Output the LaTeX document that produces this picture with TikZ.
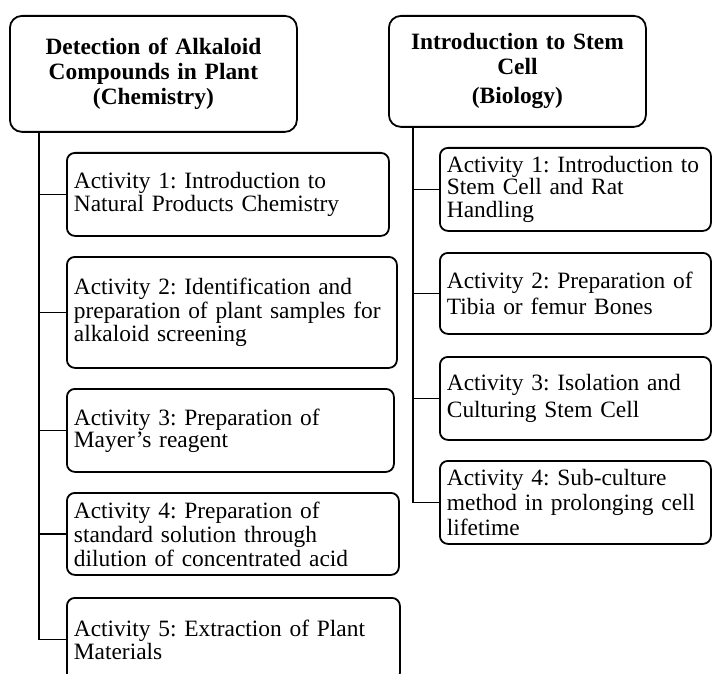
\documentclass[tikz,border=0pt]{standalone}
\usepackage{fontspec}
\setmainfont{Liberation Serif}
\begin{document}
\begin{tikzpicture}[x=1pt,y=-1pt]
\tikzset{
  conn/.style={line width=1.8pt},
  actbox/.style={draw, line width=1.8pt, rounded corners=8pt, align=left, inner xsep=7pt, inner ysep=0pt, font=\fontsize{23.4}{#1}\selectfont\frenchspacing, anchor=north west},
  actbox/.default=22.5,
  headbox/.style={draw, line width=1.8pt, rounded corners=12pt, align=center, inner xsep=4pt, inner ysep=0pt, font=\bfseries\fontsize{23.4}{25}\selectfont\frenchspacing, anchor=north west}
}
\useasboundingbox (0,0) rectangle (712,674);
\clip (0,0) rectangle (712,674);
% headers
\node[headbox, text width=279pt, minimum height=116pt] (h1) at (9,15) {Detection of Alkaloid\\Compounds in Plant\\(Chemistry)};
\node[headbox, text width=249pt, minimum height=111pt] (h2) at (388,15) {Introduction to Stem\\Cell\\[4pt](Biology)};
% left activities
\node[actbox=21, text width=308pt, minimum height=83pt] (a1) at (66,152) {Activity 1: Introduction to\\Natural Products Chemistry};
\node[actbox=23.5, text width=316pt, minimum height=111pt] (a2) at (66,256) {Activity 2: Identification and\\preparation of plant samples for\\alkaloid screening};
\node[actbox=22, text width=313pt, minimum height=83pt] (a3) at (66,388) {Activity 3: Preparation of\\Mayer’s reagent};
\node[actbox=24, text width=318pt, minimum height=82pt] (a4) at (66,492) {Activity 4: Preparation of\\standard solution through\\dilution of concentrated acid};
\node[actbox=23, text width=319pt, minimum height=83pt] (a5) at (66,597) {Activity 5: Extraction of Plant\\Materials};
% right activities
\node[actbox=22.5, text width=257pt, minimum height=83pt] (b1) at (439,147) {Activity 1: Introduction to\\Stem Cell and Rat\\Handling};
\node[actbox=26, text width=257pt, minimum height=81pt] (b2) at (439,252) {Activity 2: Preparation of\\Tibia or femur Bones};
\node[actbox=27, text width=257pt, minimum height=83pt] (b3) at (439,356) {Activity 3: Isolation and\\Culturing Stem Cell};
\node[actbox=25, text width=257pt, minimum height=83pt] (b4) at (439,460) {Activity 4: Sub-culture\\method in prolonging cell\\lifetime};
% trunks
\coordinate (lt) at (39,0);
\coordinate (rt) at (413,0);
\foreach \n in {a1,a2,a3,a4,a5} {\draw[conn] (h1.south -| lt) |- (\n.west);}
\foreach \n in {b1,b2,b3,b4} {\draw[conn] (h2.south -| rt) |- (\n.west);}
\end{tikzpicture}
\end{document}
